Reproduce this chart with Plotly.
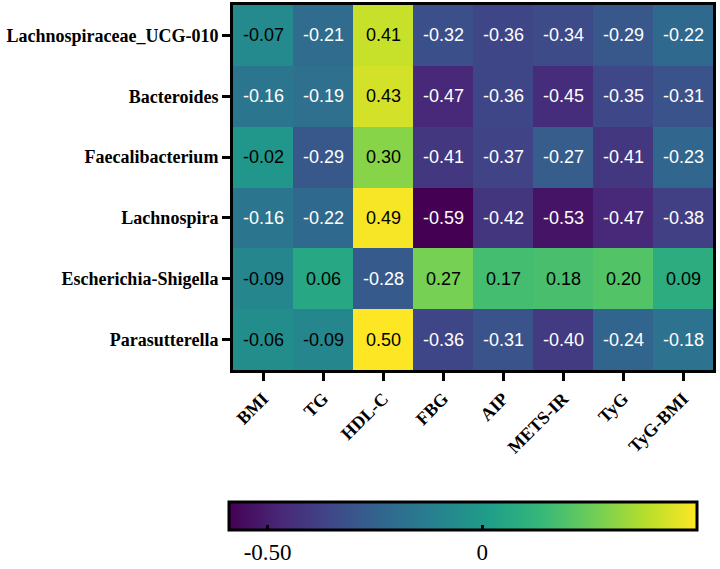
import plotly.graph_objects as go

taxa = ["Lachnospiraceae_UCG-010", "Bacteroides", "Faecalibacterium",
        "Lachnospira", "Escherichia-Shigella", "Parasutterella"]
indices = ["BMI", "TG", "HDL-C", "FBG", "AIP", "METS-IR", "TyG", "TyG-BMI"]

r_lachno_ucg = [-0.07, -0.21, 0.41, -0.32, -0.36, -0.34, -0.29, -0.22]
r_bacteroides = [-0.16, -0.19, 0.43, -0.47, -0.36, -0.45, -0.35, -0.31]
r_faecali = [-0.02, -0.29, 0.30, -0.41, -0.37, -0.27, -0.41, -0.23]
r_lachnospira = [-0.16, -0.22, 0.49, -0.59, -0.42, -0.53, -0.47, -0.38]
r_escherichia = [-0.09, 0.06, -0.28, 0.27, 0.17, 0.18, 0.20, 0.09]
r_parasutterella = [-0.06, -0.09, 0.50, -0.36, -0.31, -0.40, -0.24, -0.18]

z = [r_lachno_ucg, r_bacteroides, r_faecali, r_lachnospira, r_escherichia, r_parasutterella]

cb_tickvals = [-0.5, 0]
cb_ticktext = ["-0.50", "0"]

SERIF = "Liberation Serif"
SANS = "Liberation Sans"

fig = go.Figure()
fig.add_trace(go.Heatmap(
    z=z, x=indices, y=taxa,
    colorscale="Viridis", zmin=-0.59, zmax=0.50,
    xgap=0, ygap=0,
    colorbar=dict(
        orientation="h",
        lenmode="pixels", len=468,
        thickness=28,
        xanchor="left", x=-0.0083,
        yanchor="top", y=-0.363,
        xpad=0, ypad=0,
        outlinewidth=3, outlinecolor="black",
        tickvals=cb_tickvals, ticktext=cb_ticktext,
        ticks="inside", ticklen=6, tickwidth=3, tickcolor="black",
        tickfont=dict(family=SERIF, size=23, color="black"),
    ),
))

for i, row in enumerate(z):
    for j, v in enumerate(row):
        fig.add_annotation(
            x=indices[j], y=taxa[i], text=f"{v:.2f}", showarrow=False,
            font=dict(family=SANS, size=18,
                      color="white" if v < -0.12 else "black"),
        )

axis_common = dict(showline=True, mirror=True, linecolor="black", linewidth=3,
                   ticks="outside", ticklen=8, tickwidth=3, tickcolor="black",
                   showgrid=False, zeroline=False, automargin=False)

fig.update_xaxes(**axis_common, tickangle=-45,
                 tickfont=dict(family=SERIF, size=18, color="black"),
                 ticktext=[f"<b>{c}</b>" for c in indices], tickvals=indices)
fig.update_yaxes(**axis_common, autorange="reversed",
                 tickfont=dict(family=SERIF, size=18, color="black"),
                 ticktext=[f"<b>{t}</b>" for t in taxa], tickvals=taxa)

fig.update_layout(
    width=720, height=569,
    margin=dict(l=233, r=7, t=5, b=199, autoexpand=False),
    paper_bgcolor="white", plot_bgcolor="white",
    font=dict(family=SERIF, color="black"),
)

fig.write_html("out.html")
